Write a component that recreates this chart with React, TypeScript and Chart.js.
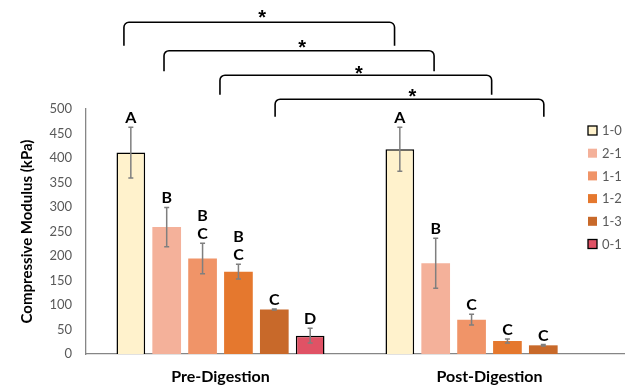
import React, { useEffect, useRef } from "react";
import { Chart, registerables } from "chart.js";

Chart.register(...registerables);

const categories = ["Pre-Digestion", "Post-Digestion"];
const seriesLabels = ["1-0", "2-1", "1-1", "1-2", "1-3", "0-1"];
const seriesColors = ["#FFF2CC", "#F4B19A", "#F09468", "#E5782E", "#C8692A", "#E05265"];
const seriesBorders = [1.5, 0, 0, 0, 0, 1.5];

const values10 = [411, 418];
const values21 = [259, 185];
const values11 = [195, 70];
const values12 = [168, 26.5];
const values13 = [91, 17.7];
const values01 = [37.5, null];

const err10 = [52, 45];
const err21 = [40, 51];
const err11 = [31, 11];
const err12 = [15, 4];
const err13 = [1, 1.5];
const err01 = [15, null];

const letters10 = [["A"], ["A"]];
const letters21 = [["B"], ["B"]];
const letters11 = [["B", "C"], ["C"]];
const letters12 = [["B", "C"], ["C"]];
const letters13 = [["C"], ["C"]];
const letters01 = [["D"], []];

const yTicks = { min: 0, max: 500, step: 50 };

// significance brackets: x in category units, y in kPa units
const bracketLeft = [-0.359, -0.21, -0.002, 0.203];
const bracketRight = [0.647, 0.794, 1.008, 1.202];
const bracketTop = [677, 619, 569, 520];
const bracketBottom = [629, 577, 529, 484];
const bracketStar = [697, 635, 582, 535];

const allValues = [values10, values21, values11, values12, values13, values01];
const allErrors = [err10, err21, err11, err12, err13, err01];
const allLetters = [letters10, letters21, letters11, letters12, letters13, letters01];

const FONT = "Lato, 'Open Sans', sans-serif";

const annotationsPlugin = {
  id: "annotations",
  afterDatasetsDraw(chart: any) {
    const ctx = chart.ctx;
    const x = chart.scales.x;
    const y = chart.scales.y;
    ctx.save();
    // error bars + letters
    chart.data.datasets.forEach((ds: any, di: number) => {
      const meta = chart.getDatasetMeta(di);
      meta.data.forEach((bar: any, i: number) => {
        const v = allValues[di][i];
        const e = allErrors[di][i];
        if (v == null || e == null) return;
        const cx = bar.x;
        const yTop = y.getPixelForValue(v + e);
        const yBot = y.getPixelForValue(v - e);
        ctx.strokeStyle = "#7f7f7f";
        ctx.lineWidth = 1.5;
        ctx.beginPath();
        ctx.moveTo(cx, yTop);
        ctx.lineTo(cx, yBot);
        ctx.moveTo(cx - 2.5, yTop);
        ctx.lineTo(cx + 2.5, yTop);
        ctx.moveTo(cx - 2.5, yBot);
        ctx.lineTo(cx + 2.5, yBot);
        ctx.stroke();
        const lines = allLetters[di][i];
        ctx.fillStyle = "#000";
        ctx.font = `bold 16px ${FONT}`;
        ctx.textAlign = "center";
        ctx.textBaseline = "alphabetic";
        for (let k = 0; k < lines.length; k++) {
          const off = (lines.length - 1 - k) * 18;
          ctx.fillText(lines[k], cx, yTop - 4 - off);
        }
      });
    });
    // brackets
    ctx.strokeStyle = "#000";
    ctx.lineWidth = 1.6;
    const r = 5;
    for (let b = 0; b < bracketLeft.length; b++) {
      const l = x.getPixelForValue(bracketLeft[b]);
      const rr = x.getPixelForValue(bracketRight[b]);
      const t = y.getPixelForValue(bracketTop[b]);
      const bt = y.getPixelForValue(bracketBottom[b]);
      ctx.beginPath();
      ctx.moveTo(l, bt);
      ctx.arcTo(l, t, l + r, t, r);
      ctx.arcTo(rr, t, rr, bt, r);
      ctx.lineTo(rr, bt);
      ctx.stroke();
      ctx.fillStyle = "#000";
      ctx.font = `bold 20px 'Liberation Sans', Arial, sans-serif`;
      ctx.textAlign = "center";
      ctx.textBaseline = "alphabetic";
      ctx.fillText("*", (l + rr) / 2 + 3, y.getPixelForValue(bracketStar[b]) + 11.5);
    }
    // legend
    const lx = 588;
    const ly0 = 130.5;
    const step = 22.7;
    chart.data.datasets.forEach((ds: any, di: number) => {
      const cy = ly0 + di * step;
      ctx.fillStyle = seriesColors[di];
      ctx.fillRect(lx, cy - 4.5, 9, 9);
      if (seriesBorders[di] > 0) {
        ctx.strokeStyle = "#000";
        ctx.lineWidth = 1.3;
        ctx.strokeRect(lx, cy - 4.5, 9, 9);
      }
      ctx.fillStyle = "#595959";
      ctx.font = `13px ${FONT}`;
      ctx.textAlign = "left";
      ctx.textBaseline = "middle";
      ctx.fillText(ds.label, lx + 14, cy + 0.5);
    });
    ctx.restore();
  },
};

export default function App() {
  const ref = useRef<HTMLCanvasElement | null>(null);
  useEffect(() => {
    if (!ref.current) return;
    const chart = new Chart(ref.current, {
      type: "bar",
      data: {
        labels: categories,
        datasets: seriesLabels.map((label, i) => ({
          label,
          data: allValues[i] as any,
          backgroundColor: seriesColors[i],
          borderColor: "#000",
          borderWidth: seriesBorders[i],
          barPercentage: 0.8,
          categoryPercentage: 0.8,
        })),
      },
      options: {
        animation: false,
        responsive: true,
        maintainAspectRatio: false,
        layout: { padding: { top: 109, left: 0, right: 1, bottom: 0 } },
        plugins: {
          legend: { display: false },
          tooltip: { enabled: false },
        },
        scales: {
          x: {
            grid: { display: false, drawTicks: false },
            border: { display: true, color: "#868686", width: 1.3 },
            ticks: {
              padding: 13,
              color: "#000",
              font: { family: FONT, size: 16, weight: "bold" },
            },
            afterFit: (s: any) => {
              s.height = 34;
            },
          },
          y: {
            min: yTicks.min,
            max: yTicks.max,
            ticks: {
              stepSize: yTicks.step,
              padding: 9,
              color: "#595959",
              font: { family: FONT, size: 13 },
            },
            grid: { display: false, drawTicks: true, tickLength: 5, tickColor: "#868686" } as any,
            border: { display: true, color: "#868686", width: 1.3 },
            title: {
              display: true,
              text: "Compressive Modulus (kPa)",
              color: "#000",
              font: { family: FONT, size: 15, weight: "bold" },
              padding: { top: 18, bottom: 0 },
            },
            afterFit: (s: any) => {
              s.width = 86;
            },
          },
        },
      },
      plugins: [annotationsPlugin],
    });
    return () => chart.destroy();
  }, []);
  return (
    <div style={{ position: "fixed", left: 0, top: 0, width: 625, height: 388 }}>
      <canvas ref={ref} />
    </div>
  );
}
